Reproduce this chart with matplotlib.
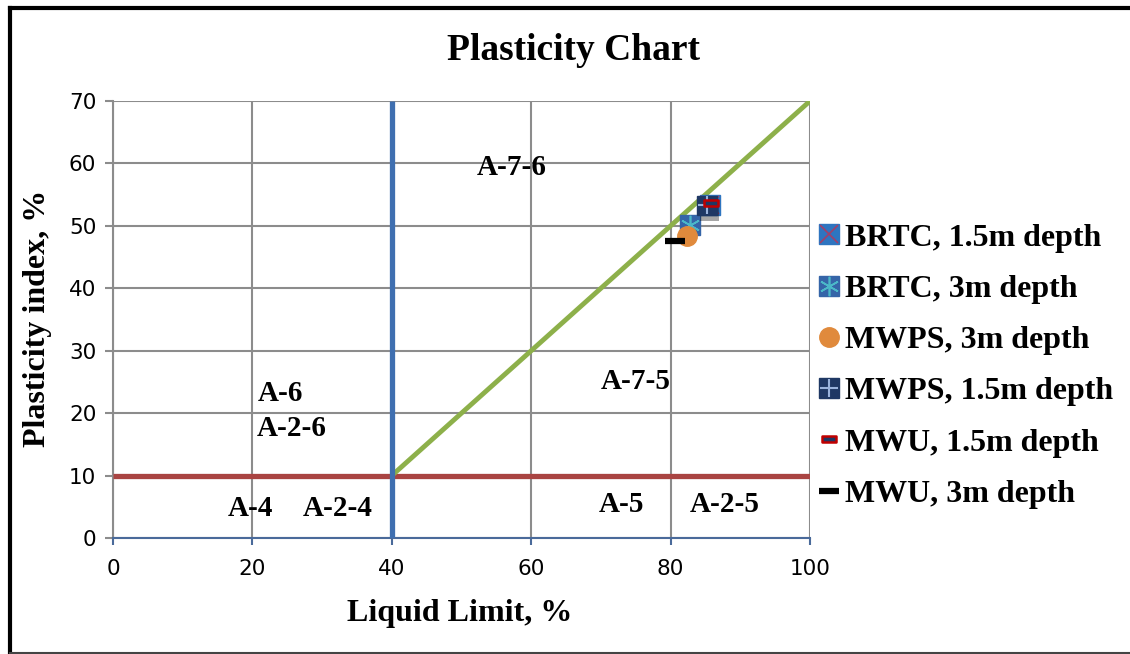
import matplotlib
matplotlib.use("Agg")
import matplotlib.pyplot as plt
import matplotlib.patheffects as pe
from matplotlib.lines import Line2D
from matplotlib.path import Path

# ---- data ----
series_names = ["BRTC, 1.5m depth", "BRTC, 3m depth", "MWPS, 3m depth",
                "MWPS, 1.5m depth", "MWU, 1.5m depth", "MWU, 3m depth"]
liquid_limit = [85.7, 82.8, 82.3, 85.2, 85.8, 80.6]
plasticity_index = [53.3, 50.1, 48.3, 53.3, 53.7, 47.5]

# boundary lines of the AASHTO chart
vline_x = [40, 40]
vline_y = [0, 70]
hline_x = [0, 100]
hline_y = [10, 10]
diag_x = [40, 100]
diag_y = [10, 70]

zone_labels = ["A-7-6", "A-6", "A-2-6", "A-7-5", "A-4", "A-2-4", "A-5", "A-2-5"]
zone_x = [57.2, 24.0, 25.7, 75.0, 19.7, 32.3, 73.0, 87.7]
zone_y = [59.4, 23.2, 17.6, 25.1, 4.8, 4.8, 5.3, 5.3]

x_ticks = [0, 20, 40, 60, 80, 100]
y_ticks = [0, 10, 20, 30, 40, 50, 60, 70]

SERIF = "Liberation Serif"

# flat rectangle marker for the small dash
dash_box = Path([(-1, -0.38), (1, -0.38), (1, 0.38), (-1, 0.38), (-1, -0.38)],
                [Path.MOVETO, Path.LINETO, Path.LINETO, Path.LINETO, Path.CLOSEPOLY])

fig = plt.figure(figsize=(11.3, 6.54), dpi=100)
ax = fig.add_axes([113 / 1130, 1 - 538 / 654, 697 / 1130, 437 / 654])

ax.set_xlim(0, 100)
ax.set_ylim(0, 70)
ax.set_xticks(x_ticks)
ax.set_yticks(y_ticks)
ax.grid(True, color="#8c8c8c", lw=1.5)
ax.set_axisbelow(True)
for s in ["top", "right"]:
    ax.spines[s].set_visible(False)
ax.spines["left"].set_color("#8c8c8c")
ax.spines["left"].set_linewidth(1.5)
ax.spines["bottom"].set_color("#4a6a9a")
ax.spines["bottom"].set_linewidth(1.5)
ax.tick_params(axis="y", length=6, width=1.5, color="#8c8c8c", labelsize=15.5, pad=6)
ax.tick_params(axis="x", length=5, width=1.5, color="#4a6a9a", labelsize=15.5, pad=10)

# boundaries
ax.plot(hline_x, hline_y, color="#a94442", lw=3.8, solid_capstyle="butt", zorder=3)
ax.plot(diag_x, diag_y, color="#8db04a", lw=3.5, solid_capstyle="butt", zorder=3)
ax.plot(vline_x, vline_y, color="#3f6fb0", lw=3.8, solid_capstyle="butt", zorder=4)

for lab, zx, zy in zip(zone_labels, zone_x, zone_y):
    ax.text(zx, zy, lab, ha="center", va="center", fontsize=21,
            fontweight="bold", family=SERIF, zorder=5)

# marker styles: each series is a list of overlaid marker specs
styles = [
    [dict(marker="s", ms=14, mfc="#2e75c0", mec="#2e75c0"),
     dict(marker="x", ms=13, mec="#a0406a", mew=1.2)],
    [dict(marker="s", ms=14, mfc="#3565a8", mec="#3565a8"),
     dict(marker=(6, 2, 0), ms=14, mec="#4bb8c8", mew=1.2)],
    [dict(marker="o", ms=14, mfc="#e08a3c", mec="#e08a3c")],
    [dict(marker="s", ms=14, mfc="#1f3864", mec="#1f3864"),
     dict(marker="+", ms=13, mec="#9ab3dc", mew=1.5)],
    [dict(marker=dash_box, ms=10, mfc="#1f3864", mec="#c00000", mew=1.8)],
    [dict(marker="_", ms=14.5, mec="black", mew=4.5)],
]

shadow = [pe.SimplePatchShadow(offset=(2, -4), shadow_rgbFace="black", alpha=0.35),
          pe.Normal()]

handles = []
for i, (name, lx, py) in enumerate(zip(series_names, liquid_limit, plasticity_index)):
    parts = []
    for j, st in enumerate(styles[i]):
        kw = dict(st)
        ln, = ax.plot([lx], [py], ls="none", zorder=6 + i + 0.1 * j, **kw)
        if j == 0 and i == 3:
            ln.set_path_effects(shadow)
        parts.append(Line2D([], [], ls="none", **kw))
    handles.append(tuple(parts))

fig.legend(handles, series_names, loc="center left",
           bbox_to_anchor=(805 / 1130, 1 - 366 / 654), frameon=False,
           prop=dict(family=SERIF, weight="bold", size=23),
           handlelength=0.7, handletextpad=0.15, labelspacing=0.685,
           borderaxespad=0)

fig.text(573 / 1130, 1 - 50 / 654, "Plasticity Chart", ha="center", va="center",
         fontsize=27, fontweight="bold", family=SERIF)
fig.text(460 / 1130, 1 - 614 / 654, "Liquid Limit, %", ha="center", va="center",
         fontsize=23, fontweight="bold", family=SERIF)
fig.text(38 / 1130, 1 - 318 / 654, "Plasticity index, %", ha="center", va="center",
         rotation=90, fontsize=23, fontweight="bold", family=SERIF)

# outer frame
fig.add_artist(Line2D([10 / 1130, 10 / 1130], [0, 1 - 8 / 654], color="black",
                      lw=3, transform=fig.transFigure))
fig.add_artist(Line2D([10 / 1130, 1], [1 - 8 / 654, 1 - 8 / 654], color="black",
                      lw=3, transform=fig.transFigure))
fig.add_artist(Line2D([10 / 1130, 1], [1.5 / 654, 1.5 / 654], color="#444444",
                      lw=1.5, transform=fig.transFigure))

fig.savefig("out.png", dpi=100)
